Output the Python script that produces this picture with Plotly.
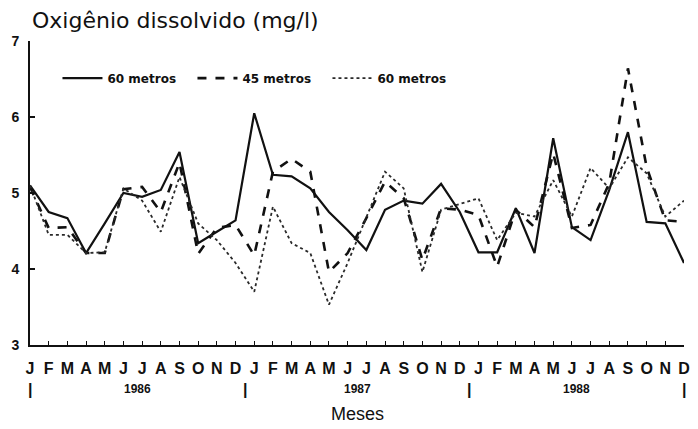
import plotly.graph_objects as go

# Monthly dissolved-oxygen readings, Jan 1986 - Dec 1988
meses = ["J", "F", "M", "A", "M", "J", "J", "A", "S", "O", "N", "D"] * 3
anos = ["1986", "1987", "1988"]

od_60 = [5.10, 4.75, 4.67, 4.21, 4.60, 5.00, 4.95, 5.04, 5.54, 4.34, 4.49, 4.64,
         6.05, 5.24, 5.22, 5.06, 4.75, 4.51, 4.25, 4.78, 4.90, 4.86, 5.12, 4.75,
         4.22, 4.22, 4.80, 4.21, 5.72, 4.55, 4.38, 5.04, 5.80, 4.62, 4.60, 4.08]
od_45 = [5.08, 4.54, 4.55, 4.21, 4.21, 5.05, 5.08, 4.75, 5.40, 4.20, 4.54, 4.58,
         4.18, 5.28, 5.45, 5.28, 3.96, 4.21, 4.67, 5.15, 4.93, 4.12, 4.80, 4.78,
         4.71, 4.03, 4.78, 4.55, 5.52, 4.54, 4.58, 5.13, 6.64, 5.34, 4.64, 4.62]
od_00 = [5.10, 4.45, 4.45, 4.21, 4.22, 5.06, 4.90, 4.49, 5.21, 4.60, 4.38, 4.08,
         3.70, 4.82, 4.34, 4.21, 3.53, 4.08, 4.68, 5.28, 5.06, 3.96, 4.78, 4.85,
         4.93, 4.38, 4.74, 4.69, 5.17, 4.69, 5.33, 5.06, 5.47, 5.26, 4.69, 4.90]

x = list(range(len(meses)))
FONT = "Liberation Sans"
WIDE = "DejaVu Sans"

fig = go.Figure()
fig.add_trace(go.Scatter(x=x, y=od_60, mode="lines", name="60 metros",
                         line=dict(color="#111111", width=2.2)))
fig.add_trace(go.Scatter(x=x, y=od_45, mode="lines", name="45 metros",
                         line=dict(color="#111111", width=2.6, dash="dash")))
fig.add_trace(go.Scatter(x=x, y=od_00, mode="lines", name="60 metros",
                         line=dict(color="#2a2a2a", width=1.8, dash="dot")))

# year labels and separators below the month letters
anotacoes = []
for pos, ano in zip([5.75, 17.5, 29.25], anos):
    anotacoes.append(dict(x=pos, y=-0.145, xref="x", yref="paper", text=ano,
                          showarrow=False, yanchor="middle",
                          font=dict(family=FONT, size=12, color="#111", weight="bold")))
for pos in [0, 11.5, 23.5, 35]:
    anotacoes.append(dict(x=pos, y=-0.145, xref="x", yref="paper", text="|",
                          showarrow=False, yanchor="middle",
                          font=dict(family=FONT, size=16, color="#111", weight="bold")))
anotacoes.append(dict(x=0.5, y=-0.226, xref="paper", yref="paper", text="Meses",
                      showarrow=False, yanchor="middle",
                      font=dict(family=FONT, size=18, color="#111")))

fig.update_layout(
    width=698, height=429,
    margin=dict(l=30, r=8, t=41, b=84),
    paper_bgcolor="white", plot_bgcolor="white",
    title=dict(text="Oxigênio dissolvido (mg/l)", x=32 / 698, xanchor="left",
               y=1 - 20 / 429, yanchor="middle",
               font=dict(family=WIDE, size=22, color="#111")),
    legend=dict(orientation="h", x=0.042, y=0.878, xanchor="left", yanchor="middle",
                bgcolor="rgba(0,0,0,0)", entrywidth=80, itemwidth=40,
                font=dict(family=WIDE, size=12, color="#111", weight="bold")),
    annotations=anotacoes,
    showlegend=True,
)
fig.update_xaxes(range=[0, 35], tickvals=x, ticktext=meses, ticks="inside", ticklen=4,
                 tickwidth=1.2, tickcolor="#111", showline=True, linecolor="#111",
                 linewidth=2, showgrid=False, zeroline=False, ticklabelstandoff=8,
                 tickfont=dict(family=FONT, size=16, color="#111", weight="bold"))
fig.update_yaxes(range=[3, 7], tickvals=[3, 4, 5, 6, 7], ticks="inside", ticklen=5,
                 tickwidth=1.5, tickcolor="#111", showline=True, linecolor="#111",
                 linewidth=2, showgrid=False, zeroline=False, ticklabelstandoff=6,
                 tickfont=dict(family=FONT, size=14, color="#111", weight="bold"))

fig.write_html("out.html")
